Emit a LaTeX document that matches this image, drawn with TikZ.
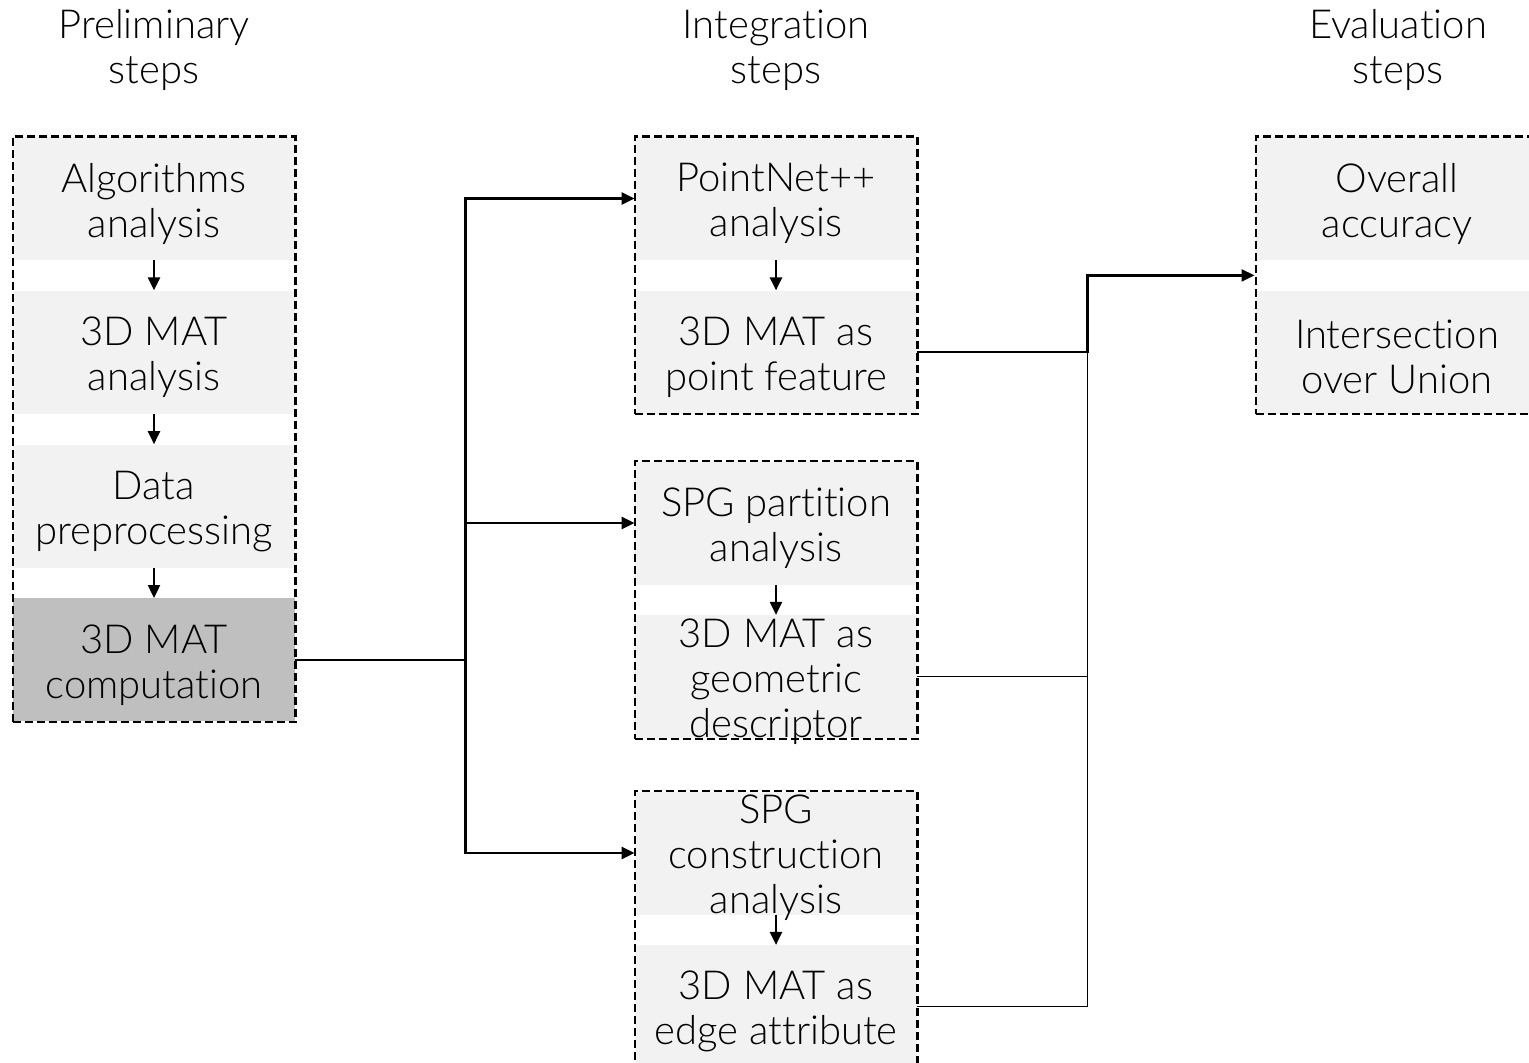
\documentclass[tikz,border=0pt]{standalone}
\usepackage{fontspec}
\setmainfont{Lato Light}[Ligatures=NoCommon]
\usetikzlibrary{arrows.meta, positioning, fit, calc}
\definecolor{stepgray}{HTML}{F2F2F2}
\definecolor{compgray}{HTML}{BFBFBF}

\begin{document}
\begin{tikzpicture}[
    x = 0.5pt, y = -0.5pt,
    node distance = 15pt,
    font           = \fontsize{20}{22.5}\selectfont,
    stepbox/.style = {rectangle, minimum width=141pt, minimum height=61.5pt,
                      inner sep=0pt, fill=stepgray},
    steptext/.style = {align=center, inner sep=0pt, yshift=-2.5pt},
    colhead/.style = {align=center, inner sep=0pt},
    stepgroup/.style = {draw, line width=1.1pt, dash pattern=on 4pt off 2pt,
                        inner sep=0pt},
    arr/.style     = {-{Triangle[length=6.5pt,width=6pt]}, line width=1.2pt},
    link/.style    = {line width=1.2pt},
    thinlink/.style = {line width=0.6pt},
  ]
  \useasboundingbox (0,0) rectangle (1529,1063);

  % column heads
  \node[colhead] (hpre) at (154,50) {Preliminary\\steps};
  \node[colhead] (hint) at (776,50) {Integration\\steps};
  \node[colhead] (heva) at (1398,50) {Evaluation\\steps};

  % preliminary steps
  \node[stepbox, label={[steptext]center:{Algorithms\\analysis}}] (algo) at (154,198.5) {};
  \node[stepbox, below=of algo, label={[steptext]center:{3D MAT\\analysis}}] (matan) {};
  \node[stepbox, below=of matan, label={[steptext]center:{Data\\preprocessing}}] (prep) {};
  \node[stepbox, below=of prep, fill=compgray,
        label={[steptext]center:{3D MAT\\computation}}] (comp) {};

  % integration steps
  \node[stepbox, label={[steptext]center:{PointNet++\\analysis}}] (pnet) at (776,198.5) {};
  \node[stepbox, below=of pnet, label={[steptext]center:{3D MAT as\\point feature}}] (pfeat) {};
  \node[stepbox, label={[steptext]center:{SPG partition\\analysis}}] (spgp) at (776,523) {};
  \node[stepbox, below=of spgp,
        label={[steptext]center:{3D MAT as\\geometric\\descriptor}}] (geod) {};
  \node[stepbox, label={[steptext]center:{SPG\\construction\\analysis}}] (spgc) at (776,853) {};
  \node[stepbox, below=of spgc, label={[steptext]center:{3D MAT as\\edge attribute}}] (edge) {};

  % evaluation steps
  \node[stepbox, label={[steptext]center:{Overall\\accuracy}}] (oacc) at (1397,198.5) {};
  \node[stepbox, below=of oacc, label={[steptext]center:{Intersection\\over Union}}] (iou) {};

  % dashed groups
  \node[stepgroup, fit=(algo)(comp)] (prelim) {};
  \node[stepgroup, fit=(pnet)(pfeat)] (intega) {};
  \node[stepgroup, fit=(spgp)(geod)] (integb) {};
  \node[stepgroup, fit=(spgc)(edge)] (integc) {};
  \node[stepgroup, fit=(oacc)(iou)] (evalbox) {};

  % arrows inside groups
  \draw[arr] (algo.south) -- (matan.north);
  \draw[arr] (matan.south) -- (prep.north);
  \draw[arr] (prep.south) -- (comp.north);
  \draw[arr] (pnet.south) -- (pfeat.north);
  \draw[arr] (spgp.south) -- (geod.north);
  \draw[arr] (spgc.south) -- (edge.north);

  % branching to integration
  \coordinate (split) at ($(comp.east)+(170,0)$);
  \draw[link] (comp.east) -- (split);
  \draw[arr] (split) |- (pnet.west);
  \draw[arr] (split) |- (spgp.west);
  \draw[arr] (split) |- (spgc.west);

  % merging to evaluation
  \coordinate (merge) at ($(pfeat.east)+(170,0)$);
  \draw[thinlink] (geod.east) -- (geod.east -| merge);
  \draw[thinlink] (edge.east) -| (merge);
  \draw[arr] (pfeat.east) -- (merge) |- (evalbox.west);
\end{tikzpicture}
\end{document}
